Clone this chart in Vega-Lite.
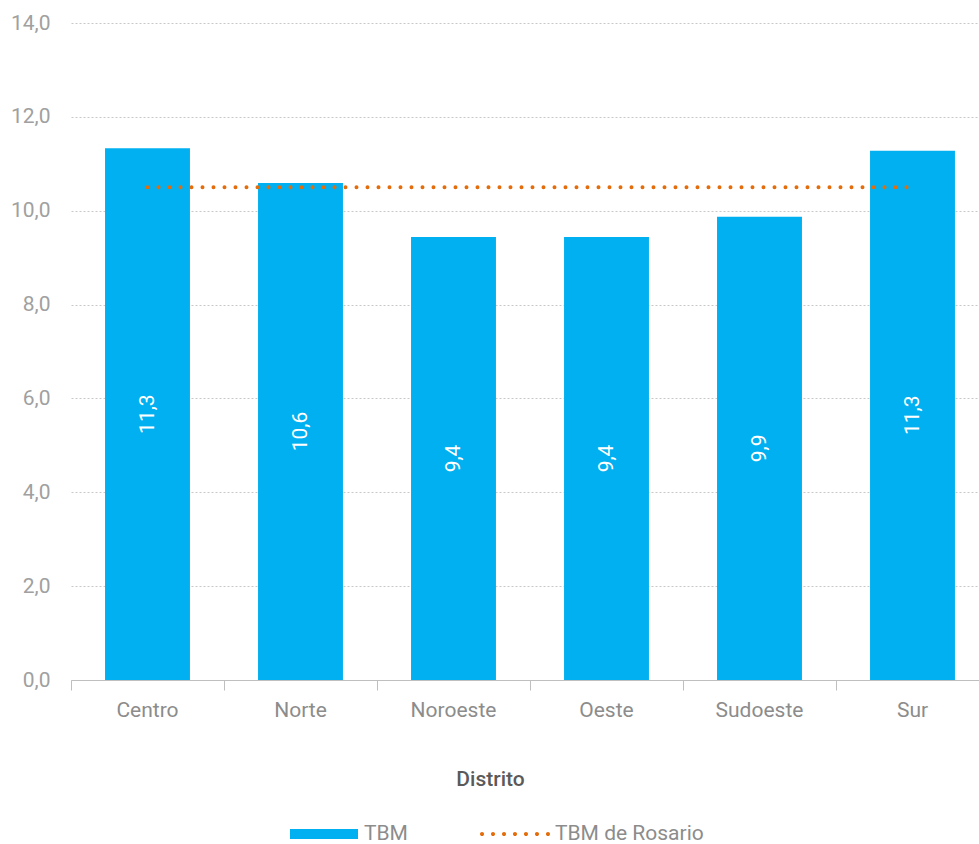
{
  "$schema": "https://vega.github.io/schema/vega-lite/v6.json",
  "width": 918,
  "height": 657,
  "autosize": {"type": "none"},
  "padding": {"left": 71, "top": 23, "right": 0, "bottom": 164},
  "background": "white",
  "config": {
    "locale": {"number": {"decimal": ",", "thousands": ".", "grouping": [3], "currency": ["$", ""]}},
    "font": "Roboto",
    "view": {"stroke": null},
    "legend": {"padding": 0, "labelFontSize": 21, "labelColor": "#8c8c8c", "labelOffset": 6, "title": null, "symbolStrokeWidth": 0, "symbolOpacity": 1}
  },
  "data": {
    "values": [
      {"distrito": "Centro", "tbm": 11.33, "rosario": 10.5},
      {"distrito": "Norte", "tbm": 10.59, "rosario": 10.5},
      {"distrito": "Noroeste", "tbm": 9.44, "rosario": 10.5},
      {"distrito": "Oeste", "tbm": 9.44, "rosario": 10.5},
      {"distrito": "Sudoeste", "tbm": 9.87, "rosario": 10.5},
      {"distrito": "Sur", "tbm": 11.28, "rosario": 10.5}
    ]
  },
  "encoding": {
    "x": {
      "field": "distrito",
      "type": "nominal",
      "sort": null,
      "scale": {"paddingInner": 0, "paddingOuter": 0},
      "axis": {
        "title": "Distrito",
        "titleFontSize": 21,
        "titleFontWeight": 500,
        "titleColor": "#5a5a5a",
        "titlePadding": 48,
        "titleX": 419,
        "labelAngle": 0,
        "labelFontSize": 21,
        "labelColor": "#8c8c8c",
        "labelPadding": 9,
        "bandPosition": 0,
        "tickSize": 10,
        "tickColor": "#bfbfbf",
        "domainColor": "#bfbfbf",
        "grid": false
      }
    }
  },
  "layer": [
    {
      "layer": [
        {
          "mark": {"type": "bar", "width": {"band": 0.555}},
          "encoding": {
            "y": {
              "field": "tbm",
              "type": "quantitative",
              "scale": {"domain": [0, 14], "nice": false},
              "axis": {
                "title": null,
                "values": [0, 2, 4, 6, 8, 10, 12, 14],
                "format": ",.1f",
                "labelFontSize": 21,
                "labelColor": "#a0a0a0",
                "labelPadding": 21,
                "ticks": false,
                "domain": false,
                "gridColor": "#c8c8c8",
                "gridDash": [2, 2],
                "gridWidth": 1
              }
            },
            "color": {
              "datum": "TBM",
              "type": "nominal",
              "scale": {"domain": ["TBM"], "range": ["#00B0F0"]},
              "legend": {
                "orient": "none",
                "legendX": 219,
                "legendY": 777,
                "symbolType": "M-1,-0.146H1V0.146H-1Z",
                "symbolSize": 4624,
                "symbolFillColor": "#00B0F0"
              }
            }
          }
        },
        {
          "mark": {"type": "line", "strokeWidth": 4, "strokeDash": [0, 11], "strokeCap": "round"},
          "encoding": {
            "y": {"field": "rosario", "type": "quantitative"},
            "color": {
              "datum": "TBM de Rosario",
              "type": "nominal",
              "scale": {"domain": ["TBM de Rosario"], "range": ["#E46C0A"]},
              "legend": {
                "orient": "none",
                "legendX": 410,
                "legendY": 777,
                "symbolType": "M-1.03,0a0.06,0.06 0 1,0 0.12,0a0.06,0.06 0 1,0 -0.12,0ZM-0.707,0a0.06,0.06 0 1,0 0.12,0a0.06,0.06 0 1,0 -0.12,0ZM-0.383,0a0.06,0.06 0 1,0 0.12,0a0.06,0.06 0 1,0 -0.12,0ZM-0.06,0a0.06,0.06 0 1,0 0.12,0a0.06,0.06 0 1,0 -0.12,0ZM0.263,0a0.06,0.06 0 1,0 0.12,0a0.06,0.06 0 1,0 -0.12,0ZM0.587,0a0.06,0.06 0 1,0 0.12,0a0.06,0.06 0 1,0 -0.12,0ZM0.91,0a0.06,0.06 0 1,0 0.12,0a0.06,0.06 0 1,0 -0.12,0Z",
                "symbolSize": 4624,
                "symbolFillColor": "#E46C0A"
              }
            }
          }
        }
      ],
      "resolve": {"scale": {"color": "independent"}, "legend": {"color": "independent"}}
    },
    {
      "mark": {"type": "text", "angle": 270, "align": "center", "baseline": "middle", "color": "white", "fontSize": 21},
      "encoding": {
        "y": {"field": "tbm", "type": "quantitative", "scale": {"domain": [0, 28], "nice": false}, "axis": null},
        "text": {"field": "tbm", "type": "quantitative", "format": ",.1f"}
      }
    }
  ],
  "resolve": {"scale": {"y": "independent", "color": "independent"}}
}
